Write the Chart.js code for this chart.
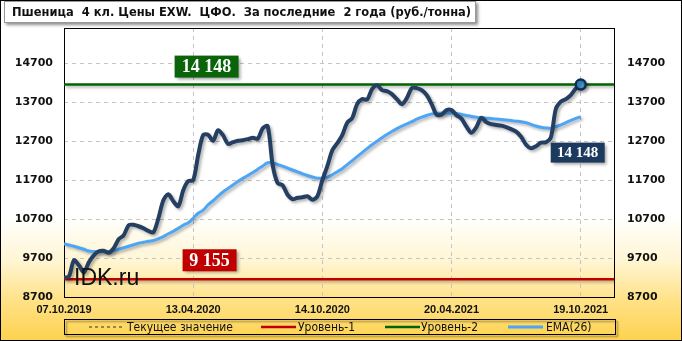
<!DOCTYPE html>
<html>
<head>
<meta charset="utf-8">
<script src="https://cdn.jsdelivr.net/npm/chart.js@4.4.0/dist/chart.umd.min.js"></script>
<style>
  html, body { margin: 0; padding: 0; background: #fff; }
  #wrap { width: 682px; height: 341px; }
</style>
</head>
<body>
<div id="wrap"><canvas id="chart" width="682" height="341"></canvas></div>
<script>
const TITLE = "Пшеница  4 кл. Цены EXW.  ЦФО.  За последние  2 года (руб./тонна)";

// x axis: one point per step, a date label every 26 steps
const xLabels = ["07.10.2019", "13.04.2020", "14.10.2020", "20.04.2021", "19.10.2021"];
const xLabelIdx = [0, 26, 52, 78, 104];
const yTicks = [8700, 9700, 10700, 11700, 12700, 13700, 14700];

const price = [
  9193, 9231, 9642, 9514, 9334, 9591, 9770, 9873, 9886, 9835,
  9950, 10180, 10280, 10540, 10553, 10515, 10464, 10394, 10361, 10720,
  11182, 11336, 11157, 11028, 11439, 11670, 11696, 12337, 12851, 12864,
  12705, 12979, 12851, 12628, 12671, 12710, 12722, 12748, 12787, 12761,
  13030, 13082, 12081, 11619, 11567, 11323, 11208, 11246, 11259, 11285,
  11195, 11285, 11696, 12055, 12466, 12645, 12851, 13172, 13287, 13647,
  13775, 13762, 14032, 14134, 14006, 13980, 13903, 13775, 13647, 13801,
  14058, 14058, 14006, 13878, 13647, 13377, 13377, 13493, 13493, 13364,
  13274, 13069, 12915, 13056, 13300, 13185, 13133, 13113, 13095, 13056,
  13005, 12941, 12812, 12607, 12517, 12568, 12658, 12671, 12799, 13530,
  13711, 13775, 13878, 14044, 14148
];

const ema26 = [
  10066, 10032, 10001, 9963, 9924, 9878, 9868, 9860, 9858, 9868,
  9886, 9924, 9963, 10001, 10040, 10078, 10104, 10130, 10150, 10194,
  10250, 10322, 10386, 10463, 10540, 10605, 10720, 10849, 10926, 11067,
  11169, 11285, 11393, 11485, 11575, 11662, 11742, 11816, 11893, 11978,
  12060, 12145, 12140, 12099, 12055, 12004, 11958, 11911, 11860, 11816,
  11778, 11747, 11747, 11773, 11837, 11914, 11991, 12094, 12196, 12299,
  12402, 12504, 12607, 12697, 12787, 12869, 12946, 13018, 13082, 13138,
  13197, 13261, 13313, 13356, 13395, 13408, 13421, 13421, 13416, 13408,
  13382, 13356, 13331, 13313, 13300, 13287, 13277, 13264, 13251, 13238,
  13225, 13210, 13197, 13172, 13128, 13087, 13056, 13036, 13030, 13069,
  13113, 13172, 13228, 13280, 13326
];

const level1 = 9155;
const level2 = 14148;
const X_MAX = 110.7;
const Y_MIN = 8700;
const Y_MAX = 15600;

const fmt = v => String(v).replace(/\B(?=(\d{3})+(?!\d))/g, " ");

const toPts = arr => arr.map((v, i) => ({ x: i, y: v }));
const flat = v => [{ x: 0, y: v }, { x: X_MAX, y: v }];

const bgPlugin = {
  id: "bg",
  beforeDraw(chart) {
    const ctx = chart.ctx;
    const g = ctx.createLinearGradient(0, 0, 0, 341);
    g.addColorStop(0, "#ffffff");
    g.addColorStop(0.63, "#ffffff");
    g.addColorStop(0.76, "#fff6d6");
    g.addColorStop(0.88, "#ffe287");
    g.addColorStop(1, "#fdd24e");
    ctx.save();
    ctx.fillStyle = g;
    ctx.fillRect(0, 0, 682, 341);
    ctx.restore();
  },
  beforeDatasetsDraw(chart) {
    const { ctx, chartArea: a } = chart;
    ctx.save();
    ctx.strokeStyle = "#000";
    ctx.lineWidth = 1;
    ctx.strokeRect(Math.round(a.left) + 0.5, Math.round(a.top) + 0.5,
      Math.round(a.right - a.left), Math.round(a.bottom - a.top));
    ctx.restore();
  }
};

const shadowPlugin = {
  id: "shadow",
  beforeDatasetDraw(chart) {
    const ctx = chart.ctx;
    ctx.save();
    ctx.shadowColor = "rgba(0,0,0,0.3)";
    ctx.shadowBlur = 3;
    ctx.shadowOffsetX = 2;
    ctx.shadowOffsetY = 2;
  },
  afterDatasetDraw(chart) {
    chart.ctx.restore();
  }
};

function tag(ctx, text, cx, cy, w, h, fill, font) {
  ctx.save();
  ctx.shadowColor = "rgba(0,0,0,0.35)";
  ctx.shadowBlur = 3;
  ctx.shadowOffsetX = 2;
  ctx.shadowOffsetY = 2;
  ctx.fillStyle = fill;
  ctx.fillRect(cx - w / 2, cy - h / 2, w, h);
  ctx.restore();
  ctx.save();
  ctx.fillStyle = "#fff";
  ctx.font = font;
  ctx.textAlign = "center";
  ctx.textBaseline = "middle";
  ctx.fillText(text, cx, cy + 1);
  ctx.restore();
}

// pick a font size so that the text takes the given width
function fitFont(ctx, text, width, tpl) {
  ctx.font = tpl.replace("SIZE", "12");
  const s = 12 * width / ctx.measureText(text).width;
  return tpl.replace("SIZE", s.toFixed(2));
}

const decorPlugin = {
  id: "decor",
  afterDatasetsDraw(chart) {
    const { ctx, scales } = chart;
    const x = scales.x, y = scales.y;

    // watermark
    ctx.save();
    ctx.fillStyle = "#111";
    ctx.font = "23px 'Liberation Sans', Arial, sans-serif";
    ctx.textBaseline = "alphabetic";
    ctx.fillText("IDK.ru", 74, 285);
    ctx.restore();

    // level tags
    tag(ctx, fmt(level2), x.getPixelForValue(28.7), y.getPixelForValue(level2) - 18, 64, 22,
      "#0a640a", "bold 18px 'Liberation Serif', serif");
    tag(ctx, fmt(level1), x.getPixelForValue(29.3), y.getPixelForValue(level1) - 19, 54, 22,
      "#c00000", "bold 18px 'Liberation Serif', serif");
    // current value tag
    const last = price.length - 1;
    tag(ctx, fmt(price[last]), x.getPixelForValue(last) - 3, y.getPixelForValue(price[last]) + 68, 54, 20,
      "#1c3a5e", "bold 15px 'Liberation Serif', serif");
  },
  afterDraw(chart) {
    const ctx = chart.ctx;

    // title box
    ctx.save();
    ctx.shadowColor = "rgba(0,0,0,0.45)";
    ctx.shadowBlur = 3;
    ctx.shadowOffsetX = 2;
    ctx.shadowOffsetY = 2;
    ctx.fillStyle = "#fff";
    ctx.fillRect(4, 1, 472, 22);
    ctx.restore();
    ctx.save();
    ctx.strokeStyle = "#999";
    ctx.strokeRect(4.5, 1.5, 471, 21);
    ctx.font = fitFont(ctx, TITLE, 459, "bold SIZEpx 'DejaVu Sans Condensed', 'DejaVu Sans', sans-serif");
    ctx.fillStyle = "#111";
    ctx.textBaseline = "middle";
    ctx.fillText(TITLE, 12, 13);
    ctx.restore();

    // legend box
    ctx.save();
    ctx.shadowColor = "rgba(0,0,0,0.45)";
    ctx.shadowBlur = 2;
    ctx.shadowOffsetX = 2;
    ctx.shadowOffsetY = 2;
    ctx.strokeStyle = "#000";
    ctx.lineWidth = 1;
    ctx.strokeRect(64.5, 319.5, 551, 15);
    ctx.restore();

    const ly = 327;
    const items = [
      { x1: 89, x2: 122, tx: 127, color: "#333", w: 1, dash: [3, 3], text: "Текущее значение" },
      { x1: 261, x2: 296, tx: 298, color: "#c00000", w: 2.5, dash: [], text: "Уровень-1" },
      { x1: 385, x2: 420, tx: 421, color: "#006400", w: 2.5, dash: [], text: "Уровень-2" },
      { x1: 508, x2: 543, tx: 546, color: "#4da6f5", w: 3, dash: [], text: "EMA(26)" }
    ];
    ctx.save();
    ctx.font = fitFont(ctx, items[0].text, 106, "SIZEpx 'DejaVu Sans Condensed', 'DejaVu Sans', sans-serif");
    ctx.textBaseline = "middle";
    items.forEach(it => {
      ctx.beginPath();
      ctx.setLineDash(it.dash);
      ctx.strokeStyle = it.color;
      ctx.lineWidth = it.w;
      ctx.lineCap = "butt";
      ctx.moveTo(it.x1, ly);
      ctx.lineTo(it.x2, ly);
      ctx.stroke();
      ctx.setLineDash([]);
      ctx.fillStyle = "#111";
      ctx.fillText(it.text, it.tx, ly + 0.5);
    });
    ctx.restore();

    // outer frame
    ctx.save();
    ctx.strokeStyle = "#000";
    ctx.lineWidth = 1;
    ctx.strokeRect(0.5, 0.5, 681, 340);
    ctx.restore();
  }
};

const yTickOpts = pad => ({
  color: "#111",
  padding: pad,
  font: { family: "'DejaVu Sans', sans-serif", size: 11, weight: "bold" },
  callback: v => String(v)
});

new Chart(document.getElementById("chart"), {
  type: "line",
  data: {
    datasets: [
      {
        label: "Текущее значение",
        data: toPts(price),
        borderColor: "#243f62",
        borderWidth: 4,
        tension: 0.3,
        pointRadius: price.map((v, i) => i === price.length - 1 ? 5 : 0),
        pointBackgroundColor: "#3f95c8",
        pointBorderColor: "#0e2a55",
        pointBorderWidth: 2.5,
        order: 0
      },
      {
        label: "EMA(26)",
        data: toPts(ema26),
        borderColor: "#4da6f5",
        borderWidth: 3,
        tension: 0.4,
        pointRadius: 0,
        order: 1
      },
      {
        label: "Уровень-2",
        data: flat(level2),
        borderColor: "#006400",
        borderWidth: 2.5,
        pointRadius: 0,
        order: 2
      },
      {
        label: "Уровень-1",
        data: flat(level1),
        borderColor: "#c00000",
        borderWidth: 2.5,
        pointRadius: 0,
        order: 2
      }
    ]
  },
  options: {
    responsive: false,
    animation: false,
    events: [],
    layout: { padding: { top: 28, left: 0, right: 0, bottom: 0 } },
    plugins: {
      legend: { display: false },
      tooltip: { enabled: false },
      title: { display: false }
    },
    scales: {
      x: {
        type: "linear",
        min: 0,
        max: X_MAX,
        afterBuildTicks: s => { s.ticks = xLabelIdx.map(v => ({ value: v })); },
        afterFit: s => { s.height = 44; },
        grid: { color: "#c4c4c4", drawTicks: false },
        border: { display: false, dash: [4, 4] },
        ticks: {
          color: "#111",
          padding: 6,
          maxRotation: 0,
          autoSkip: false,
          font: { family: "'Liberation Sans', Arial, sans-serif", size: 11, weight: "bold" },
          callback: v => xLabels[xLabelIdx.indexOf(v)]
        }
      },
      y: {
        position: "left",
        min: Y_MIN,
        max: Y_MAX,
        afterBuildTicks: s => { s.ticks = yTicks.map(v => ({ value: v })); },
        afterFit: s => { s.width = 64; },
        grid: { color: "#c4c4c4", drawTicks: false },
        border: { display: false, dash: [4, 4] },
        ticks: yTickOpts(11)
      },
      y2: {
        position: "right",
        min: Y_MIN,
        max: Y_MAX,
        afterBuildTicks: s => { s.ticks = yTicks.map(v => ({ value: v })); },
        afterFit: s => { s.width = 68; },
        grid: { display: false, drawTicks: false },
        border: { display: false },
        ticks: yTickOpts(13)
      }
    }
  },
  plugins: [bgPlugin, shadowPlugin, decorPlugin]
});
</script>
</body>
</html>
